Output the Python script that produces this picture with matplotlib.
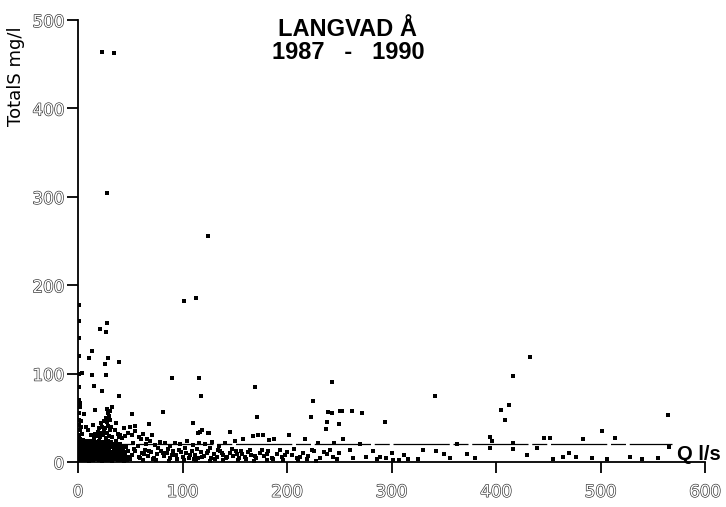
import matplotlib
matplotlib.use("Agg")
import matplotlib.pyplot as plt
import matplotlib.patheffects as pe

# discharge Q (l/s) and total suspended solids (mg/l), Langvad Å 1987-1990
# points along the axis (very low flow)
q_axis = [0.5, 0.5, 1, 0.5, 1, 0.5, 1, 0.5, 1.5, 0.5, 1, 0.5, 2, 1, 0.5, 0.5, 1, 0.5, 1, 0.5,
          2.5, 3, 2.5, 3, 2, 3.5, 2.5, 3, 4, 4, 4.5, 4, 4.5]
s_axis = [2, 6, 10, 14, 18, 22, 27, 31, 36, 42, 48, 55, 62, 70, 85, 100, 120, 140, 160, 178,
          4, 9, 15, 21, 26, 32, 40, 46, 12, 2, 7, 18, 25]

# dense cluster at low flow
q_low = [5, 8.3, 11, 14.2, 17, 20.4, 23, 26.1, 29, 32.5, 35, 38.2, 41, 44.3, 47, 50.2,
         6.1, 9, 12.4, 16, 19.2, 22, 25.3, 28, 31.4, 34, 37.1, 40, 43.2, 46, 49.1,
         5.2, 8, 11.3, 14, 18.1, 21, 24.2, 27, 30.3, 33, 36.2, 39, 42.1, 45,
         6, 9.3, 13, 16.2, 19, 23.1, 26, 29.2, 32, 35.3, 38, 41.2, 44, 48,
         5.1, 8.2, 11, 14.3, 17, 20.2, 24, 27.1, 30, 34.2, 37, 40.1, 43,
         7, 10.2, 13, 16.1, 19, 22.3, 25, 28.2, 31, 34.1, 38, 42, 46.2,
         6.2, 9, 12.1, 15, 18.3, 21, 24.1, 27, 30.2, 33, 36.1, 40,
         5, 8.1, 11.2, 14, 17.1, 20, 23.2, 26, 29.1, 32, 36]
s_low = [2, 2.5, 1.5, 2, 3, 2, 1.5, 2.5, 2, 1.5, 3, 2, 2.5, 1.5, 2, 3,
         5, 6, 5.5, 4.5, 5, 6, 5, 4.5, 5.5, 5, 6, 4.5, 5, 5.5, 6,
         8, 9, 8.5, 7.5, 8, 9, 8, 7.5, 8.5, 8, 9, 7.5, 8, 8.5,
         11, 12, 11.5, 10.5, 11, 12, 11, 10.5, 11.5, 11, 12, 10.5, 11, 12,
         14, 15, 14.5, 13.5, 14, 15, 14, 13.5, 14.5, 14, 15, 13.5, 14,
         17, 18, 17.5, 16.5, 17, 18, 17, 16.5, 17.5, 17, 18, 17, 16.5,
         20, 21, 20.5, 19.5, 20, 21, 20, 19.5, 20.5, 20, 21, 20,
         23, 24, 23.5, 22.5, 23, 24, 23, 22.5, 23.5, 23, 24]

# plume rising out of the cluster
q_plume = [15, 18, 21, 24, 27, 30, 33, 16, 19, 22, 25, 28, 31, 20, 23, 26, 29, 32, 22, 25,
           28, 31, 27, 30, 29, 31, 28, 33, 12, 10, 8, 14, 35, 38, 40, 42, 45, 36, 39,
           44, 48, 52, 50, 55, 58, 62, 66, 71]
s_plume = [27, 29, 28, 30, 27, 29, 28, 32, 34, 33, 35, 33, 36, 38, 40, 39, 41, 40, 44, 46,
           45, 47, 50, 52, 55, 58, 60, 62, 31, 36, 40, 42, 36, 32, 30, 27, 29, 44, 28,
           38, 33, 30, 40, 35, 28, 32, 26, 30]

# band of low concentrations between 50 and 250 l/s
q_band = [52, 55, 58, 61, 64, 67, 70, 73, 76, 79, 82, 85, 88, 91, 94, 97, 100, 103, 106, 109,
          112, 115, 118, 121, 124, 127, 130, 133, 136, 139, 142, 145, 148, 151, 154, 157, 160,
          163, 166, 170, 174, 178, 182, 186, 190, 195, 200, 205, 210, 215, 220, 226, 232, 238,
          244, 250,
          53, 57, 60, 65, 69, 74, 78, 83, 88, 93, 98, 104, 110, 116, 122, 128, 135, 141, 150,
          158, 167, 172, 177, 183, 188, 202, 217, 230, 245, 254]
s_band = [8, 12, 6, 10, 14, 7, 11, 5, 9, 13, 7, 10, 5, 12, 8, 14, 6, 10, 4, 12,
          8, 5, 11, 7, 13, 5, 9, 6, 12, 8, 4, 10, 7, 12, 5, 9, 6,
          11, 8, 4, 10, 7, 12, 5, 9, 6, 11, 8, 4, 10, 7, 13, 5, 9,
          6, 10,
          22, 18, 26, 20, 24, 19, 23, 21, 18, 22, 20, 24, 19, 22, 20, 23, 18, 21, 24,
          26, 29, 31, 31, 25, 26, 31, 26, 22, 21, 26]

# second pass through the band, filling the gaps
q_band2 = [54, 59, 63, 68, 72, 77, 81, 86, 90, 95, 99, 102, 107, 111, 114, 119, 123, 126,
           131, 134, 138, 143, 147, 152, 156, 161, 165, 169, 176, 181, 187, 193, 198, 207,
           212, 219, 224, 235, 241, 248,
           62, 75, 87, 101, 113, 126, 139, 153, 168, 181, 196, 211, 228]
s_band2 = [15, 4, 9, 13, 3, 16, 10, 15, 8, 3, 11, 16, 8, 3, 15, 6, 10, 16,
           3, 14, 10, 6, 15, 9, 13, 3, 14, 7, 14, 9, 3, 14, 8, 15,
           6, 3, 14, 11, 14, 3,
           2, 2, 1.5, 2, 2.5, 1.5, 2, 2, 1.5, 2, 2.5, 2, 1.5]

# scattered high values
q_high = [23, 34, 28, 124, 101, 113, 28, 21, 27, 13, 11, 29, 39, 26, 13, 4, 27, 15, 23, 39,
          90, 116, 118, 81, 52, 68, 55, 110, 117, 125, 145, 2, 6, 16,
          115, 119, 124, 171, 223, 243, 238, 250, 253, 237, 254, 225, 169, 243, 118]
s_high = [464, 463, 304, 256, 182, 186, 157, 150, 147, 126, 118, 118, 113, 111, 98, 101, 98, 86,
          80, 75, 95, 95, 75, 57, 54, 43, 41, 44, 34, 33, 34, 67, 54, 59,
          33, 36, 33, 51, 51, 55, 45, 43, 58, 37, 26, 69, 85, 90, 75]

# higher flows
q_right = [262, 272, 294, 342, 416, 405, 412, 409, 565, 501, 452, 446, 514, 483, 394, 396,
           416, 363, 343, 372, 325, 356, 394, 416, 439, 455, 464, 477, 492, 506, 528, 566,
           260, 263, 276, 286, 289, 295, 301, 316, 307, 270, 282, 300, 312, 330, 350, 380,
           430, 470, 540, 555, 433, 239, 251]
s_right = [58, 55, 45, 75, 97, 59, 64, 48, 53, 35, 27, 27, 27, 26, 28, 24,
           22, 20, 12, 9, 3, 5, 16, 15, 16, 3, 6, 6, 5, 3, 6, 17,
           14, 4, 6, 3, 6, 5, 2, 3, 2, 20, 12, 10, 8, 14, 9, 4,
           8, 10, 3, 5, 119, 57, 58]

# horizontal reference level
ref_level = 20
ref_end = 568

q = q_axis + q_low + q_plume + q_band + q_band2 + q_high + q_right
s = s_axis + s_low + s_plume + s_band + s_band2 + s_high + s_right

fig = plt.figure(figsize=(7.26, 5.07), dpi=100)
ax = fig.add_axes([78 / 726, 45 / 507, 627 / 726, 442 / 507])

ax.scatter(q, s, marker="s", s=5, c="black", linewidths=0, zorder=3)
ax.hlines(ref_level, 0, ref_end, colors="black", linewidth=0.9,
          linestyles=(0, (45, 3, 12, 3)), zorder=2)

ax.set_xlim(0, 600)
ax.set_ylim(0, 500)
ax.set_xticks([0, 100, 200, 300, 400, 500, 600])
ax.set_yticks([0, 100, 200, 300, 400, 500])
for side in ("top", "right"):
    ax.spines[side].set_visible(False)
for side in ("left", "bottom"):
    ax.spines[side].set_linewidth(1.3)

# hollow, faint tick numbers
outline = [pe.withStroke(linewidth=0.9, foreground="#2a2a2a")]
ax.tick_params(direction="out", length=8, width=1.3, labelsize=12, pad=7,
               labelcolor="white")
for lab in ax.get_xticklabels() + ax.get_yticklabels():
    lab.set_path_effects(outline)
ax.tick_params(axis="y", pad=2)

ax.text(573, 8, "Q l/s", fontsize=14.5, fontweight="bold", ha="left", va="center",
        family="Liberation Sans", clip_on=False)

fig.text(348 / 726, 1 - 18 / 507, "LANGVAD Å\n1987   -   1990", ha="center", va="top",
         fontsize=17, fontweight="bold", family="Liberation Sans", linespacing=1.0)
fig.text(16 / 726, 1 - 76 / 507, "TotalS mg/l", rotation=90, ha="center", va="center",
         fontsize=13)

fig.savefig("out.png", dpi=100)
